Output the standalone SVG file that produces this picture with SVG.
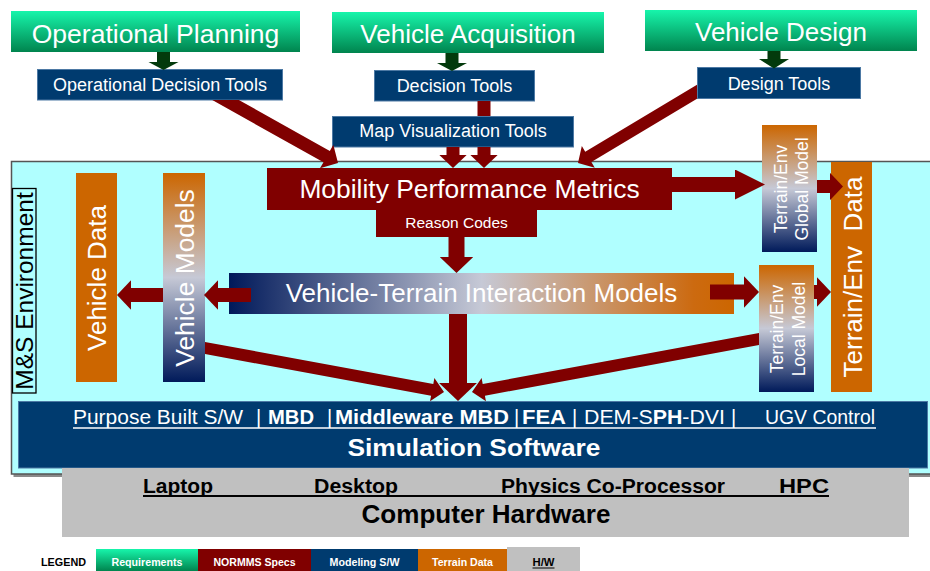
<svg xmlns="http://www.w3.org/2000/svg" width="930" height="571" viewBox="0 0 930 571">
<style>
text{font-family:"Liberation Sans",Arial,sans-serif;fill:#fff}
.m{text-anchor:middle}
.b{font-weight:bold}
.k{fill:#000}
.blue{fill:#003b6f;stroke:#4d79a4;stroke-width:1}
.green{fill:url(#gGreen)}
.red{fill:#800000}
.orange{fill:#cc6600}
.c{stroke:#800000;fill:none}
.cf{fill:#800000}
.g{fill:#033a0c}
</style>
<defs>
<linearGradient id="gGreen" x1="0" y1="0" x2="0" y2="1">
<stop offset="0" stop-color="#17f5ab"/><stop offset="1" stop-color="#00844e"/>
</linearGradient>
<linearGradient id="gH" x1="0" y1="0" x2="1" y2="0">
<stop offset="0" stop-color="#00195a"/><stop offset="0.5" stop-color="#c6c9d6"/><stop offset="0.92" stop-color="#cc6a10"/><stop offset="1" stop-color="#cc6600"/>
</linearGradient>
<linearGradient id="gV" x1="0" y1="0" x2="0" y2="1">
<stop offset="0" stop-color="#cc6600"/><stop offset="0.5" stop-color="#c6c9d6"/><stop offset="1" stop-color="#001a5a"/>
</linearGradient>
<marker id="ah" viewBox="0 0 10 21" markerWidth="1" markerHeight="2.1" refX="0.5" refY="10.5" orient="auto" markerUnits="strokeWidth">
<path d="M0,0 L10,10.5 L0,21 Z" fill="#800000"/>
</marker>
<marker id="ahL" viewBox="0 0 20 20" markerWidth="2" markerHeight="2" refX="0.5" refY="10" orient="auto" markerUnits="strokeWidth">
<path d="M0,0 L20,10 L0,20 Z" fill="#800000"/>
</marker>
</defs>

<g id="ms-environment">
<rect x="13.5" y="164" width="925" height="313" fill="#8a8a8a"/>
<rect x="11.5" y="161.5" width="925" height="312.5" fill="#b0ffff" stroke="#555" stroke-width="1.5"/>
<rect x="12.5" y="188.5" width="23.5" height="204.5" fill="#b0ffff" stroke="#000" stroke-width="1.3"/>
<text class="m k" font-size="24.5" transform="translate(33,291) rotate(-90)">M&amp;S Environment</text>
</g>

<g id="operational-planning">
<rect class="green" x="11" y="11" width="289" height="41"/>
<text class="m" x="155.5" y="43" font-size="26.5">Operational Planning</text>
</g>
<g id="vehicle-acquisition">
<rect class="green" x="332" y="12" width="272" height="41"/>
<text class="m" x="468" y="43" font-size="26">Vehicle Acquisition</text>
</g>
<g id="vehicle-design">
<rect class="green" x="645" y="10" width="272" height="41"/>
<text class="m" x="781" y="41" font-size="26">Vehicle Design</text>
</g>

<g id="operational-decision-tools">
<rect class="blue" x="37.5" y="69.5" width="245" height="30.5"/>
<text class="m" x="160" y="91" font-size="18">Operational Decision Tools</text>
</g>
<g id="decision-tools">
<rect class="blue" x="374.5" y="70.5" width="160" height="30.5"/>
<text class="m" x="454.5" y="92" font-size="18">Decision Tools</text>
</g>
<g id="design-tools">
<rect class="blue" x="697.5" y="67.5" width="163" height="31"/>
<text class="m" x="779" y="90" font-size="18">Design Tools</text>
</g>
<g id="map-visualization-tools">
<rect class="blue" x="332.5" y="116.5" width="241" height="30.5"/>
<text class="m" x="453" y="137" font-size="18">Map Visualization Tools</text>
</g>

<g id="mobility-performance-metrics">
<path class="red" d="M267,168 H672 V210 H537 V237 H376 V210 H267 Z"/>
<text class="m" x="469.5" y="198" font-size="26.4">Mobility Performance Metrics</text>
<text class="m" x="456.5" y="228" font-size="15.5">Reason Codes</text>
</g>

<g id="vehicle-data">
<rect class="orange" x="76" y="173" width="41" height="209"/>
<text class="m" font-size="26" transform="translate(106,278) rotate(-90)">Vehicle Data</text>
</g>
<g id="vehicle-models">
<rect x="163" y="173" width="42" height="209" fill="url(#gV)"/>
<text class="m" font-size="26.4" transform="translate(194,278) rotate(-90)">Vehicle Models</text>
</g>
<g id="vehicle-terrain-interaction-models">
<rect x="229" y="273" width="505" height="41" fill="url(#gH)"/>
<text class="m" x="481.5" y="302" font-size="26">Vehicle-Terrain Interaction Models</text>
</g>
<g id="terrain-env-global-model">
<rect x="762" y="125" width="55" height="127" fill="url(#gV)"/>
<text class="m" font-size="17.5" transform="translate(787,189) rotate(-90)">Terrain/Env</text>
<text class="m" font-size="17.5" transform="translate(808,189) rotate(-90)">Global Model</text>
</g>
<g id="terrain-env-local-model">
<rect x="759" y="265" width="55" height="127" fill="url(#gV)"/>
<text class="m" font-size="17.5" transform="translate(783,329) rotate(-90)">Terrain/Env</text>
<text class="m" font-size="17.5" transform="translate(805,329) rotate(-90)">Local Model</text>
</g>
<g id="terrain-env-data">
<rect class="orange" x="831" y="162" width="41" height="230"/>
<text class="m" font-size="26" xml:space="preserve" transform="translate(862,277) rotate(-90)">Terrain/Env  Data</text>
</g>

<g id="simulation-software">
<rect class="blue" x="18.5" y="401.5" width="909" height="66.5"/>
<text x="73" y="424" font-size="20" textLength="170" lengthAdjust="spacingAndGlyphs">Purpose Built S/W</text>
<text x="256" y="424" font-size="20">|</text>
<text class="b" x="268" y="424" font-size="20" textLength="46" lengthAdjust="spacingAndGlyphs">MBD</text>
<text x="327" y="424" font-size="20">|</text>
<text class="b" x="335" y="424" font-size="20" textLength="174" lengthAdjust="spacingAndGlyphs">Middleware MBD</text>
<text x="514" y="424" font-size="20">|</text>
<text class="b" x="522" y="424" font-size="20" textLength="44" lengthAdjust="spacingAndGlyphs">FEA</text>
<text x="572" y="424" font-size="20">|</text>
<text x="584" y="424" font-size="20" textLength="141" lengthAdjust="spacingAndGlyphs">DEM-S<tspan class="b">PH</tspan>-DVI</text>
<text x="731" y="424" font-size="20">|</text>
<text x="765" y="424" font-size="20" textLength="110" lengthAdjust="spacingAndGlyphs">UGV Control</text>
<line x1="73" y1="428" x2="876" y2="428" stroke="#fff" stroke-width="1.5"/>
<text class="m b" x="474" y="456" font-size="24" textLength="253" lengthAdjust="spacingAndGlyphs">Simulation Software</text>
</g>

<g id="computer-hardware">
<rect x="62" y="468" width="847" height="69" fill="#c0c0c0"/>
<text class="b k" x="143" y="493" font-size="20" textLength="70" lengthAdjust="spacingAndGlyphs">Laptop</text>
<text class="b k" x="314" y="493" font-size="20" textLength="84" lengthAdjust="spacingAndGlyphs">Desktop</text>
<text class="b k" x="501" y="493" font-size="20" textLength="224" lengthAdjust="spacingAndGlyphs">Physics Co-Processor</text>
<text class="b k" x="779" y="493" font-size="20" textLength="50" lengthAdjust="spacingAndGlyphs">HPC</text>
<line x1="143" y1="496" x2="829" y2="496" stroke="#000" stroke-width="1.8"/>
<text class="m b k" x="486" y="523" font-size="25" textLength="249" lengthAdjust="spacingAndGlyphs">Computer Hardware</text>
</g>

<g id="legend">
<text class="b k" x="41" y="566" font-size="11" textLength="45" lengthAdjust="spacingAndGlyphs">LEGEND</text>
<rect class="green" x="96" y="549" width="102" height="22"/>
<text class="m b" x="147" y="566" font-size="11" textLength="71" lengthAdjust="spacingAndGlyphs">Requirements</text>
<rect class="red" x="198" y="549" width="113" height="22"/>
<text class="m b" x="254.5" y="566" font-size="11" textLength="82" lengthAdjust="spacingAndGlyphs">NORMMS Specs</text>
<rect x="311" y="549" width="107" height="22" fill="#003b6f"/>
<text class="m b" x="364.5" y="566" font-size="11" textLength="70" lengthAdjust="spacingAndGlyphs">Modeling S/W</text>
<rect class="orange" x="418" y="549" width="89" height="22"/>
<text class="m b" x="462.5" y="566" font-size="11" textLength="61" lengthAdjust="spacingAndGlyphs">Terrain Data</text>
<rect x="507" y="547" width="73" height="24" fill="#c0c0c0"/>
<text class="m b k" x="543.5" y="566" font-size="11" textLength="22" lengthAdjust="spacingAndGlyphs">H/W</text>
<line x1="532.5" y1="568" x2="554.5" y2="568" stroke="#000" stroke-width="1"/>
</g>

<g id="connectors">
<path class="g" d="M157,52 H170 V62 H178.5 L163.5,70 L148.5,62 H157 Z"/>
<path class="g" d="M445.5,53 H458.5 V63 H467 L452,71 L437,63 H445.5 Z"/>
<path class="g" d="M767.5,51 H780.5 V59 H789 L774,68.5 L759,59 H767.5 Z"/>
<path class="cf" d="M212.25,100 L323.48,162.32 L319.99,168.3 L338,163 L333.33,144.74 L329.84,150.98 L238.85,100 Z"/>
<path class="cf" d="M697,84.8 L585.22,151.69 L581.83,146.03 L578,163 L594.77,167.65 L591.38,161.99 L697,98.78 Z"/>
<line class="c" x1="453" y1="147" x2="453" y2="155.65" stroke-width="13" marker-end="url(#ah)"/>
<path class="c" d="M484,101 V116 M484,147 V155.65" stroke-width="13" marker-end="url(#ah)"/>
<line class="c" x1="672" y1="184.5" x2="735.75" y2="184.5" stroke-width="15" marker-end="url(#ahL)"/>
<line class="c" x1="817" y1="186.5" x2="830.65" y2="186.5" stroke-width="13" marker-end="url(#ah)"/>
<line class="c" x1="456.5" y1="237" x2="456.5" y2="257.8" stroke-width="16" marker-end="url(#ah)"/>
<line class="c" x1="710" y1="292" x2="744.75" y2="292" stroke-width="15" marker-end="url(#ah)"/>
<line class="c" x1="814" y1="292" x2="817.7" y2="292" stroke-width="14" marker-end="url(#ah)"/>
<line class="c" x1="251" y1="295" x2="217.3" y2="295" stroke-width="14" marker-end="url(#ah)"/>
<line class="c" x1="163" y1="295" x2="130.3" y2="295" stroke-width="14" marker-end="url(#ah)"/>
<line class="c" x1="458" y1="314" x2="458" y2="383.9" stroke-width="18" marker-end="url(#ah)"/>
<path class="cf" d="M205,341.89 L433.29,383.93 L434.37,378.03 L444,392 L430.03,401.3 L431.11,395.73 L205,354.09 Z"/>
<path class="cf" d="M759,332.9 L482.71,383.92 L481.62,378.02 L472,392 L485.98,401.3 L484.89,395.72 L759,345.1 Z"/>
</g>
</svg>
